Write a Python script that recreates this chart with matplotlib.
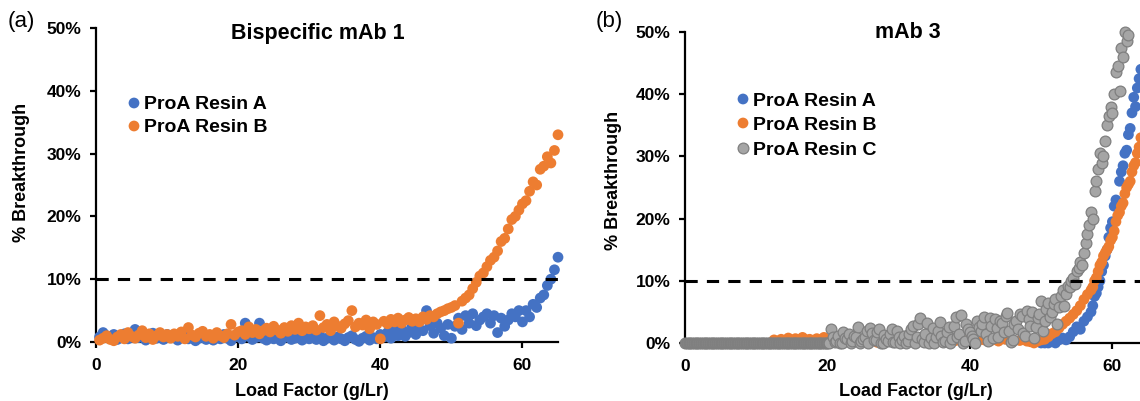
import matplotlib
matplotlib.use("Agg")
import matplotlib.pyplot as plt

plt.rcParams['font.family'] = ['Liberation Sans', 'DejaVu Sans']

# ---------------- data ----------------
series_names_left = ["ProA Resin A", "ProA Resin B"]
series_names_right = ["ProA Resin A", "ProA Resin B", "ProA Resin C"]
ytick_vals = [0, 10, 20, 30, 40, 50]
ytick_labels = ["0%", "10%", "20%", "30%", "40%", "50%"]
xtick_vals = [0, 20, 40, 60]
threshold = 10

# Panel (a): Bispecific mAb 1
left_load = [0.5, 1, 1.5, 2, 2.5, 3, 3.5, 4, 4.5, 5, 5.5, 6, 6.5, 7, 7.5, 8, 8.5, 9, 9.5, 10,
             10.5, 11, 11.5, 12, 12.5, 13, 13.5, 14, 14.5, 15, 15.5, 16, 16.5, 17, 17.5, 18, 18.5, 19, 19.5, 20,
             20.5, 21, 21.5, 22, 22.5, 23, 23.5, 24, 24.5, 25, 25.5, 26, 26.5, 27, 27.5, 28, 28.5, 29, 29.5, 30,
             30.5, 31, 31.5, 32, 32.5, 33, 33.5, 34, 34.5, 35, 35.5, 36, 36.5, 37, 37.5, 38, 38.5, 39, 39.5, 40,
             40.5, 41, 41.5, 42, 42.5, 43, 43.5, 44, 44.5, 45, 45.5, 46, 46.5, 47, 47.5, 48, 48.5, 49, 49.5, 50,
             50.5, 51, 51.5, 52, 52.5, 53, 53.5, 54, 54.5, 55, 55.5, 56, 56.5, 57, 57.5, 58, 58.5, 59, 59.5, 60,
             60.5, 61, 61.5, 62, 62.5, 63, 63.5, 64, 64.5, 65]
left_resin_a = [0.8, 1.5, 1.0, 0.6, 1.2, 0.4, 0.9, 1.3, 0.5, 0.8, 2.0, 0.7, 1.1, 0.3, 0.9, 1.4, 0.6, 1.0, 0.4, 1.2,
                0.7, 1.0, 0.3, 0.8, 1.3, 0.5, 0.9, 0.2, 0.6, 1.1, 0.4, 0.8, 0.3, 0.9, 0.5, 1.2, 0.6, 0.2, 0.8, 1.0,
                0.5, 3.0, 0.9, 0.4, 0.7, 3.0, 0.6, 0.3, 1.0, 0.5, 0.8, 0.2, 0.7, 1.1, 0.4, 0.6, 0.9, 0.3, 0.8, 0.5,
                0.7, 0.4, 1.0, 0.2, 0.6, 0.9, 0.3, 0.8, 0.5, 0.2, 0.7, 1.0, 0.4, 0.1, 0.6, 0.9, 0.3, 0.7, 0.5, 1.2,
                0.8, 1.5, 0.6, 1.8, 1.0, 2.2, 0.9, 1.5, 2.5, 1.2, 2.0, 1.8, 5.0, 2.6, 1.4, 3.0, 2.2, 1.0, 2.8, 0.6,
                2.5, 3.8, 2.0, 4.2, 3.0, 4.5, 2.6, 3.5, 4.0, 4.5, 3.0, 4.2, 1.5, 3.8, 2.5, 3.5, 4.5, 4.0, 5.0, 3.2,
                5.0, 4.0, 6.0, 5.5, 7.0, 7.5, 9.0, 10.0, 11.5, 13.5]
left_resin_b = [0.3, 0.6, 1.0, 0.4, 0.2, 0.8, 1.2, 0.5, 1.5, 0.9, 0.6, 1.1, 1.8, 0.7, 1.3, 0.4, 1.0, 1.5, 0.8, 1.2,
                0.6, 1.3, 0.9, 1.6, 0.5, 2.3, 1.1, 0.8, 1.4, 1.7, 0.9, 1.2, 0.6, 1.5, 1.0, 0.7, 1.3, 2.8, 1.1, 1.6,
                1.8, 1.2, 2.4, 1.5, 2.0, 1.3, 1.8, 2.2, 1.6, 2.5, 1.9, 1.4, 2.3, 1.7, 2.6, 2.0, 3.0, 1.8, 2.4, 2.1,
                2.6, 1.9, 4.2, 2.3, 2.8, 1.8, 3.2, 2.5, 2.2, 2.9, 3.4, 5.0, 2.4, 3.0, 2.7, 3.5, 2.1, 3.2, 2.8, 0.5,
                3.3, 2.9, 3.6, 3.2, 3.8, 3.0, 3.5, 3.9, 3.3, 3.7, 3.2, 4.0, 3.6, 4.2, 4.0, 4.5, 4.8, 5.0, 5.3, 5.5,
                5.8, 3.0, 6.5, 7.0, 7.5, 8.5, 9.5, 10.5, 11.0, 12.0, 13.0, 13.5, 14.5, 16.0, 16.5, 18.0, 19.5, 20.0, 21.0, 22.0,
                22.5, 24.0, 25.5, 25.0, 27.5, 28.0, 29.5, 28.5, 30.5, 33.0]

# Panel (b): mAb 3
right_a_load = [50, 50.5, 51, 51.5, 52, 52.5, 53, 53.5, 54, 54.5, 55, 55.5, 56, 56.5, 57,
                57.25, 57.5, 57.75, 58, 58.25, 58.5, 58.75, 59, 59.25, 59.5, 59.75, 60, 60.25, 60.5, 60.75,
                61, 61.25, 61.5, 61.75, 62, 62.25, 62.5, 62.75, 63, 63.25, 63.5, 63.75, 64]
right_resin_a = [0, 0, 0, 0.3, 0, 0.5, 0.8, 0.5, 1.0, 1.8, 2.6, 2.2, 3.5, 4.2, 5.0,
                 6.0, 7.5, 8.0, 9.0, 10.0, 11.5, 12.5, 14.0, 15.0, 17.0, 18.5, 19.5, 22.0, 23.0, 22.5,
                 26.0, 27.5, 28.5, 30.5, 31.0, 33.5, 34.5, 37.0, 39.5, 38.0, 41.0, 42.5, 44.0]

right_b_load = [12.5, 13, 13.5, 14, 14.5, 15, 15.5, 16, 16.5, 17, 17.5, 18, 18.5, 19, 19.5, 20,
                21, 22, 23, 24, 25, 26, 27, 28, 29, 30, 31, 32, 33, 34, 35, 36, 37, 38, 39, 40,
                41, 42, 43, 44, 45, 46, 47, 48,
                48.5, 49, 49.5, 50, 50.5, 51, 51.5, 52, 52.5, 53, 53.5, 54, 54.5, 55, 55.5, 56, 56.5,
                57, 57.25, 57.5, 57.75, 58, 58.25, 58.5, 58.75, 59, 59.25, 59.5, 59.75, 60, 60.25, 60.5, 60.75,
                61, 61.25, 61.5, 61.75, 62, 62.25, 62.5, 62.75, 63, 63.25, 63.5, 63.75, 64]
right_resin_b = [0.5, 0.3, 0.6, 0.2, 0.8, 0.4, 0.7, 0.3, 0.9, 0.5, 0.6, 0.2, 0.7, 0.4, 0.9, 0.5,
                 0.3, 0.6, 0.2, 0.8, 0.4, 0.5, 0.1, 0.7, 0.3, 0.6, 0.2, 0.4, 0.8, 0.3, 0.5, 0.2, 0.6, 0.4, 0.3, 0.7,
                 0.2, 0.5, 0.4, 0.3, 0.6, 0.2, 0.4, 0.3,
                 0.2, 0.0, 0.3, 0.5, 0.6, 1.0, 1.5, 1.8, 2.4, 3.0, 3.5, 4.0, 4.6, 5.2, 6.0, 7.0, 7.8,
                 8.5, 9.0, 10.0, 10.5, 11.5, 12.5, 13.0, 14.0, 14.5, 15.0, 15.5, 16.5, 17.0, 18.0, 19.5, 20.5,
                 21.0, 22.0, 22.5, 24.0, 25.0, 25.5, 26.0, 27.5, 28.5, 29.0, 30.5, 31.5, 33.0]

# Resin C: zero baseline, scattered low region, then the steep rise
right_c_base_load = [0, 0.25, 0.5, 0.75, 1, 1.25, 1.5, 1.75, 2, 2.25, 2.5, 2.75, 3, 3.25, 3.5, 3.75,
                     4, 4.25, 4.5, 4.75, 5, 5.25, 5.5, 5.75, 6, 6.25, 6.5, 6.75, 7, 7.25, 7.5, 7.75,
                     8, 8.25, 8.5, 8.75, 9, 9.25, 9.5, 9.75, 10, 10.25, 10.5, 10.75, 11, 11.25, 11.5, 11.75,
                     12, 12.25, 12.5, 12.75, 13, 13.25, 13.5, 13.75, 14, 14.25, 14.5, 14.75, 15, 15.25, 15.5, 15.75,
                     16, 16.25, 16.5, 16.75, 17, 17.25, 17.5, 17.75, 18, 18.25, 18.5, 18.75, 19, 19.25, 19.5, 19.75, 20]
right_c_base = [0, 0, 0, 0, 0, 0, 0, 0, 0, 0, 0, 0, 0, 0, 0, 0,
                0, 0, 0, 0, 0, 0, 0, 0, 0, 0, 0, 0, 0, 0, 0, 0,
                0, 0, 0, 0, 0, 0, 0, 0, 0, 0, 0, 0, 0, 0, 0, 0,
                0, 0, 0, 0, 0, 0, 0, 0, 0, 0, 0, 0, 0, 0, 0, 0,
                0, 0, 0, 0, 0, 0, 0, 0, 0, 0, 0, 0, 0, 0, 0, 0, 0]
right_c_load = [20.25, 20.5, 20.75, 21, 21.25, 21.5, 21.75, 22, 22.25, 22.5, 22.75, 23, 23.25, 23.5, 23.75, 24,
                24.25, 24.5, 24.75, 25, 25.25, 25.5, 25.75, 26, 26.25, 26.5, 26.75, 27, 27.25, 27.5, 27.75, 28,
                28.25, 28.5, 28.75, 29, 29.25, 29.5, 29.75, 30,
                30.25, 30.5, 30.75, 31, 31.25, 31.5, 31.75, 32, 32.25, 32.5, 32.75, 33, 33.25, 33.5, 33.75, 34,
                34.25, 34.5, 34.75, 35, 35.25, 35.5, 35.75, 36, 36.25, 36.5, 36.75, 37, 37.25, 37.5, 37.75, 38,
                38.25, 38.5, 38.75, 39, 39.25, 39.5, 39.75, 40,
                40.25, 40.5, 40.75, 41, 41.25, 41.5, 41.75, 42, 42.25, 42.5, 42.75, 43, 43.25, 43.5, 43.75, 44,
                44.25, 44.5, 44.75, 45, 45.25, 45.5, 45.75, 46, 46.25, 46.5, 46.75, 47, 47.25, 47.5, 47.75, 48,
                48.25, 48.5, 48.75, 49, 49.25, 49.5, 49.75, 50,
                50.25, 50.5, 50.75, 51, 51.25, 51.5, 51.75, 52, 52.25, 52.5, 52.75, 53, 53.25, 53.5, 53.75,
                54, 54.25, 54.5, 54.75, 55, 55.25, 55.5, 55.75, 56, 56.25, 56.5, 56.75, 57, 57.25, 57.5, 57.75,
                58, 58.25, 58.5, 58.75, 59, 59.25, 59.5, 59.75, 60, 60.25, 60.5, 60.75, 61, 61.25, 61.5, 61.75,
                62, 62.25]
right_resin_c = [0.0, 2.2, 1.0, 0.2, 0.4, 1.2, 0.0, 0.0, 1.8, 0.8, 0.6, 1.5, 0.0, 0.3, 1.2, 1.0,
                 2.5, 0.0, 0.3, 0.6, 0.9, 2.0, 0.0, 2.4, 1.6, 0.5, 0.5, 1.8, 2.3, 0.0, 0.0, 1.3,
                 0.7, 0.4, 1.4, 2.2, 0.2, 0.1, 2.0, 1.0,
                 0.0, 0.5, 1.1, 0.0, 0.4, 1.5, 2.2, 2.8, 0.0, 1.0, 3.0, 4.0, 0.6, 0.2, 1.5, 3.2,
                 0.0, 0.8, 2.4, 0.0, 0.9, 2.0, 3.4, 1.2, 0.2, 0.3, 1.8, 2.6, 0.0, 0.6, 2.8, 4.2,
                 1.0, 1.4, 4.5, 0.0, 0.4, 3.0, 2.2, 1.8,
                 1.2, 0.6, 0.0, 3.5, 2.6, 2.0, 3.0, 4.2, 1.5, 0.4, 4.0, 2.8, 0.8, 3.8, 2.4, 1.0,
                 3.5, 3.2, 1.8, 4.4, 4.8, 2.0, 0.2, 0.5, 3.0, 3.6, 2.2, 4.6, 4.4, 1.6, 1.2, 5.2,
                 3.8, 2.8, 5.0, 0.8, 2.5, 4.0, 4.6, 6.8,
                 2.0, 3.5, 5.5, 6.5, 4.2, 5.0, 6.2, 7.0, 3.0, 5.8, 7.5, 8.5, 6.0, 7.8, 9.2,
                 9.0, 10.0, 10.5, 9.5, 11.5, 12.0, 13.0, 12.5, 14.5, 16.0, 17.5, 19.0, 21.0, 20.0, 24.5, 26.0,
                 28.0, 30.5, 29.0, 30.0, 32.5, 35.0, 36.5, 38.0, 37.0, 40.0, 43.5, 44.5, 40.5, 47.5, 46.0, 50.0,
                 48.5, 49.5]

# ---------------- styling ----------------
BLUE = "#4472C4"
ORANGE = "#ED7D31"
GRAY = "#A5A5A5"
GRAY_EDGE = "#7F7F7F"
MS = 60  # marker area (pt^2)

W, H = 1140, 401
fig = plt.figure(figsize=(W / 100, H / 100), dpi=100)


def px_rect(x0, y_top, x1, y_bot):
    return [x0 / W, 1 - y_bot / H, (x1 - x0) / W, (y_bot - y_top) / H]


axL = fig.add_axes(px_rect(96, 28, 558, 342))
axR = fig.add_axes(px_rect(685, 32, 1148, 343))


def style_axes(ax):
    ax.set_xlim(0, 65)
    ax.set_ylim(0, 50)
    for s in ["top", "right"]:
        ax.spines[s].set_visible(False)
    for s in ["left", "bottom"]:
        ax.spines[s].set_linewidth(1.6)
        ax.spines[s].set_color("black")
    ax.set_yticks(ytick_vals)
    ax.set_yticklabels(ytick_labels)
    ax.set_xticks(xtick_vals)
    ax.tick_params(axis="both", direction="out", length=4.5, width=1.6, labelsize=12.5)
    ax.tick_params(axis="y", pad=6)
    ax.tick_params(axis="x", pad=7)
    for lab in ax.get_xticklabels() + ax.get_yticklabels():
        lab.set_fontweight("bold")
    ax.axhline(threshold, color="black", lw=2.2, ls=(0, (4, 3)), zorder=5)


style_axes(axL)
style_axes(axR)

# Panel (a)
axL.scatter(left_load, left_resin_a, s=MS, color=BLUE, edgecolors="none", zorder=3, clip_on=False)
axL.scatter(left_load, left_resin_b, s=MS, color=ORANGE, edgecolors="none", zorder=3.1, clip_on=False)

# Panel (b)
axR.scatter(right_a_load, right_resin_a, s=MS, color=BLUE, edgecolors="none", zorder=3, clip_on=False)
axR.scatter(right_b_load, right_resin_b, s=MS, color=ORANGE, edgecolors="none", zorder=3.1, clip_on=False)
# densely overlapping baseline points merge into a solid darker bar
axR.scatter(right_c_base_load, right_c_base, s=MS, color="#858585",
            edgecolors=GRAY_EDGE, linewidths=0.9, zorder=3.2, clip_on=False)
axR.scatter(right_c_load, right_resin_c, s=MS, color=GRAY,
            edgecolors=GRAY_EDGE, linewidths=0.9, zorder=3.2, clip_on=False)


def legend(ax, names, colors, edges, x_marker, x_text, ys):
    for name, c, e, y in zip(names, colors, edges, ys):
        ax.scatter([x_marker], [y], s=MS, color=c, edgecolors=e, linewidths=0.9,
                   transform=ax.transAxes, clip_on=False, zorder=6)
        ax.text(x_text, y, name, transform=ax.transAxes, ha="left", va="center_baseline",
                fontsize=14, fontweight="bold")


legend(axL, series_names_left, [BLUE, ORANGE], ["none", "none"],
       (134 - 96) / 462, (144 - 96) / 462, [(342 - 103) / 314, (342 - 126) / 314])
legend(axR, series_names_right, [BLUE, ORANGE, GRAY], ["none", "none", GRAY_EDGE],
       (743 - 685) / 463, (753 - 685) / 463, [(343 - 99) / 311, (343 - 123) / 311, (343 - 148) / 311])

# Titles
fig.text(318 / W, 1 - 33 / H, "Bispecific mAb 1", ha="center", va="center", fontsize=15.5, fontweight="bold")
fig.text(908 / W, 1 - 33 / H, "mAb 3", ha="center", va="center", fontsize=15.5, fontweight="bold")

# Axis labels
fig.text(312 / W, 1 - 391 / H, "Load Factor (g/Lr)", ha="center", va="center", fontsize=13, fontweight="bold")
fig.text(916 / W, 1 - 391 / H, "Load Factor (g/Lr)", ha="center", va="center", fontsize=13, fontweight="bold")
fig.text(22 / W, 1 - 172 / H, "% Breakthrough", ha="center", va="center", rotation=90, fontsize=13, fontweight="bold")
fig.text(613 / W, 1 - 180 / H, "% Breakthrough", ha="center", va="center", rotation=90, fontsize=13, fontweight="bold")

# Panel letters
fig.text(21 / W, 1 - 22 / H, "(a)", ha="center", va="center", fontsize=16)
fig.text(609 / W, 1 - 22 / H, "(b)", ha="center", va="center", fontsize=16)

fig.savefig("out.png", dpi=100)
